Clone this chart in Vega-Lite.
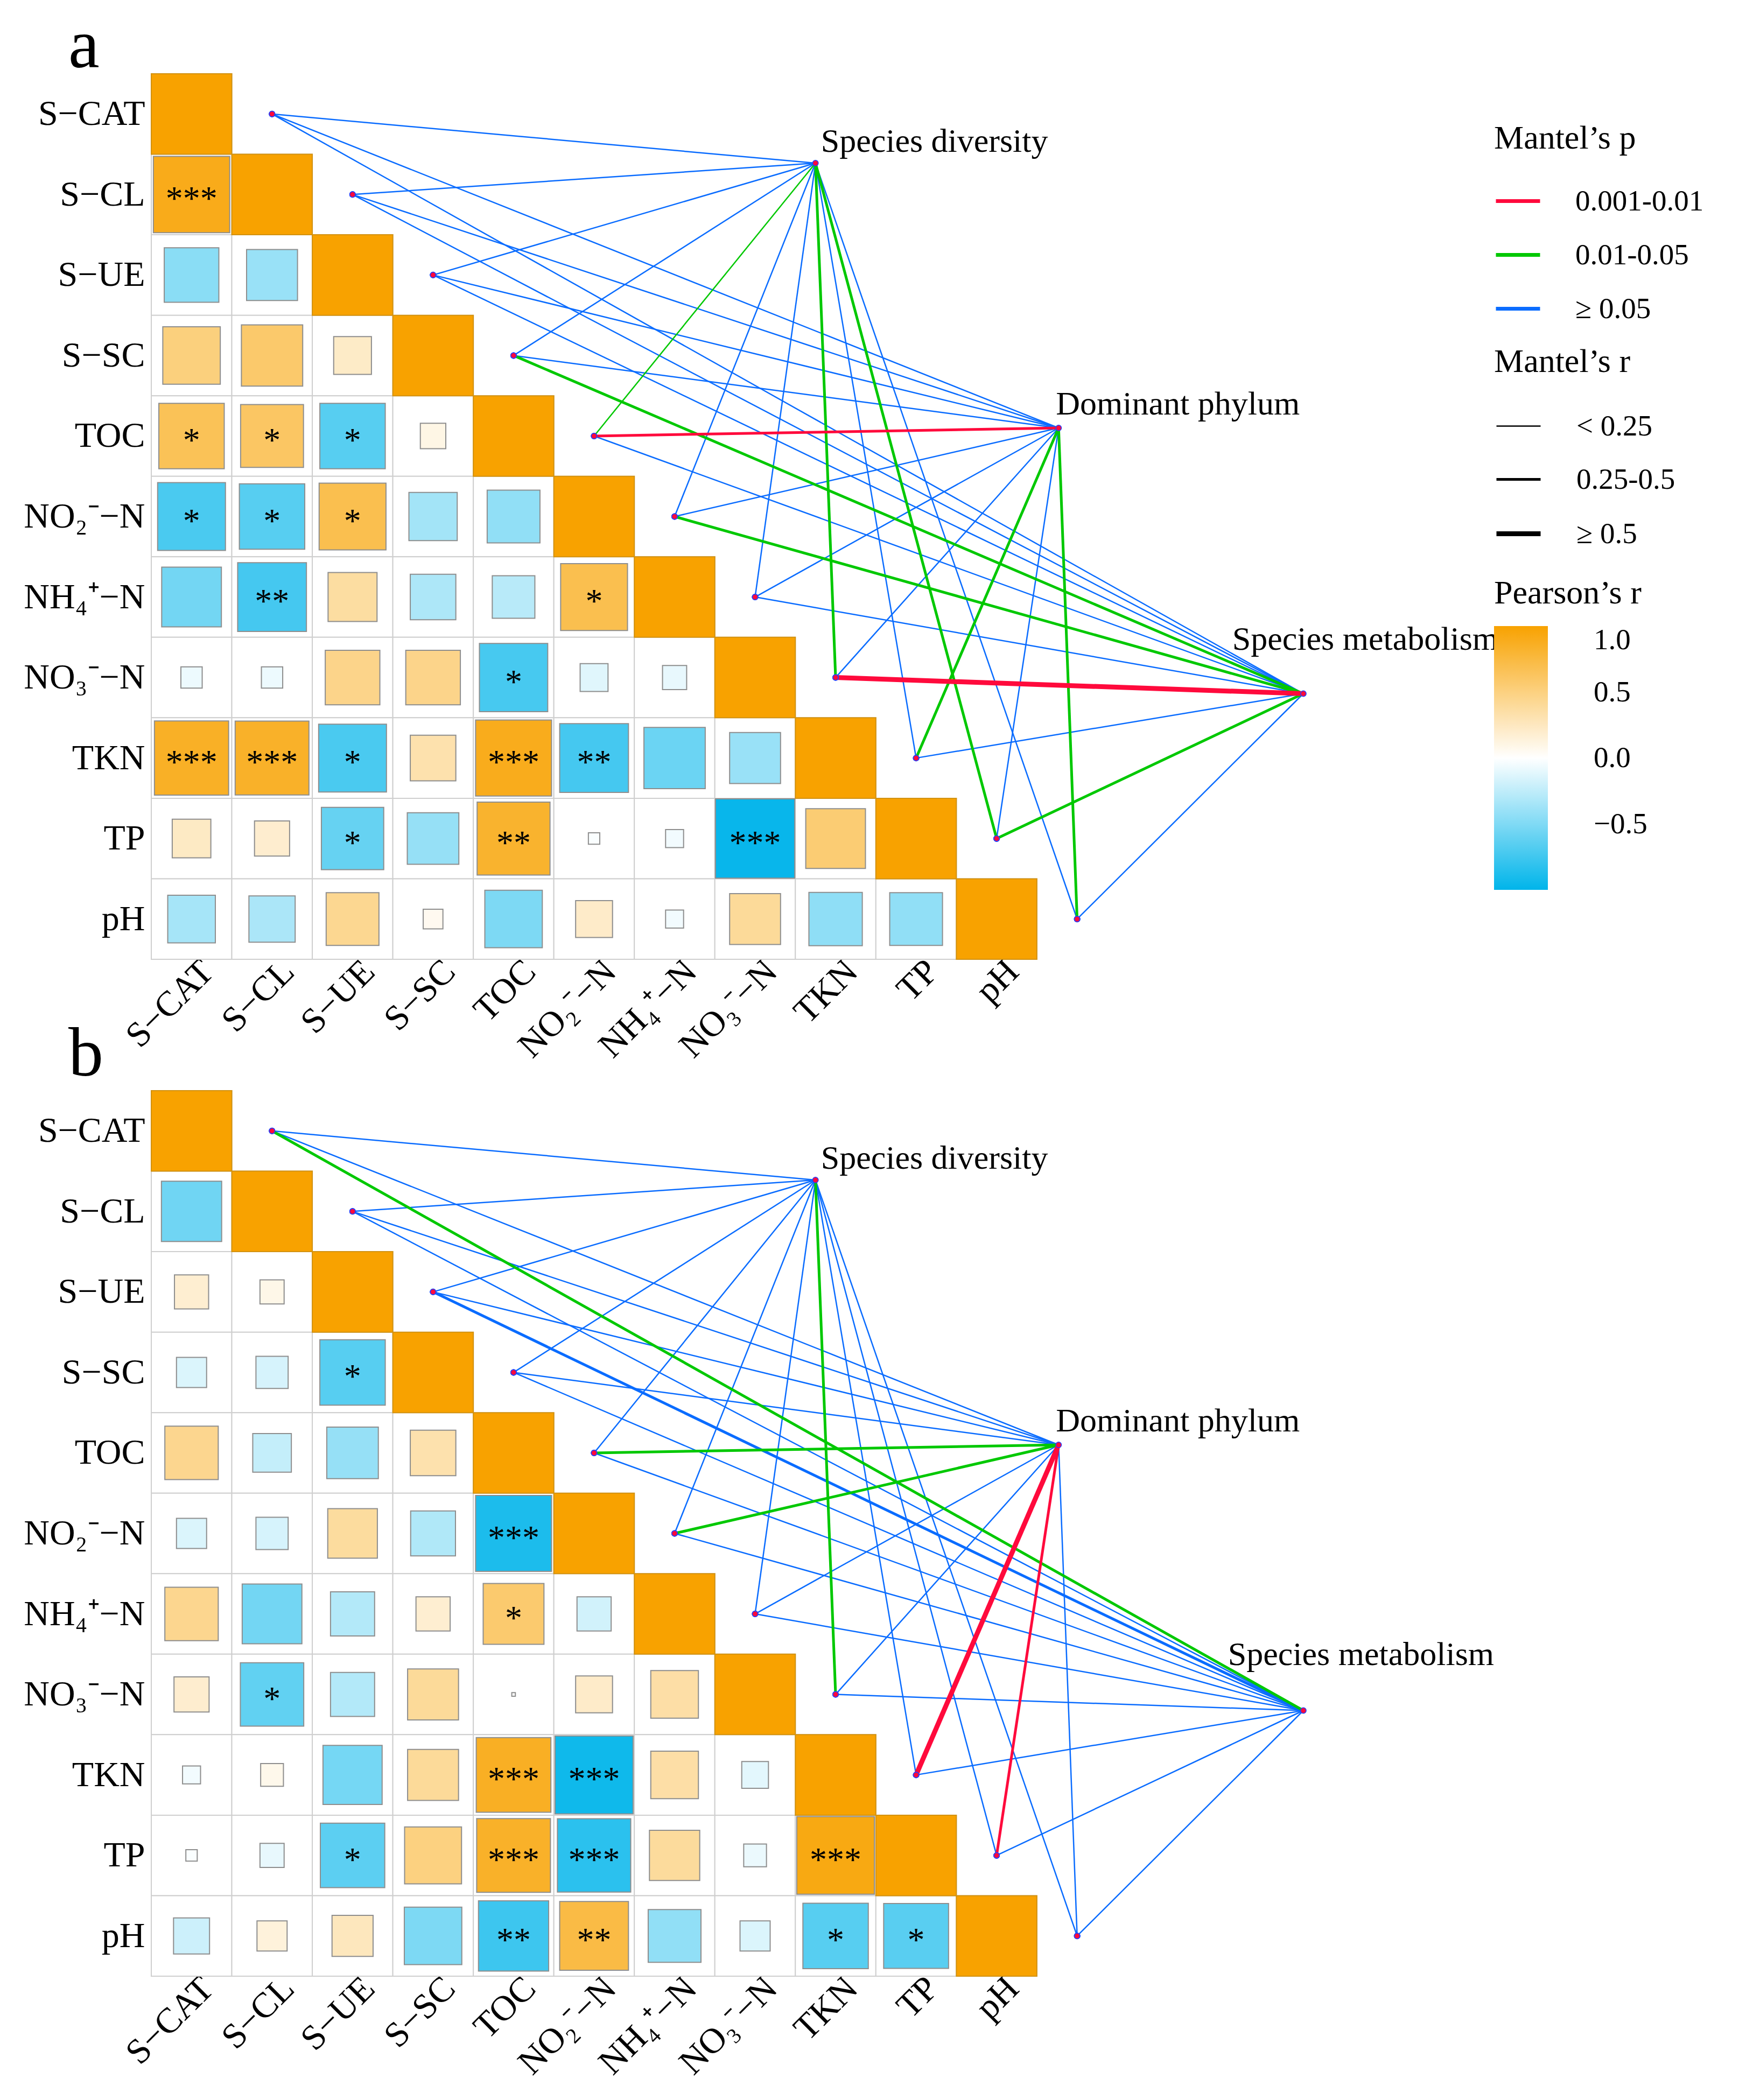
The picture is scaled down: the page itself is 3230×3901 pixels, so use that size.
{
  "$schema": "https://vega.github.io/schema/vega-lite/v6.json",
  "background": "white",
  "padding": {"left": 43, "top": 21, "right": 5, "bottom": 5},
  "autosize": {"type": "pad"},
  "config": {
    "font": "Liberation Serif",
    "view": {"stroke": null},
    "legend": {"labelFont": "Liberation Serif", "titleFont": "Liberation Serif", "titleFontWeight": "normal", "labelColor": "black", "titleColor": "black", "labelLimit": 0, "titleLimit": 0},
    "axis": {"labelLimit": 0}
  },
  "datasets": {
    "nodes": [
      {"node": "Species diversity", "nx": 7.75, "ny": 0.61},
      {"node": "Dominant phylum", "nx": 10.77, "ny": 3.9},
      {"node": "Species metabolism", "nx": 13.81, "ny": 7.2}
    ],
    "cells": [
      {"panel": "a", "row": 0, "col": 0, "r": 1, "sig": ""},
      {"panel": "a", "row": 1, "col": 1, "r": 1, "sig": ""},
      {"panel": "a", "row": 2, "col": 2, "r": 1, "sig": ""},
      {"panel": "a", "row": 3, "col": 3, "r": 1, "sig": ""},
      {"panel": "a", "row": 4, "col": 4, "r": 1, "sig": ""},
      {"panel": "a", "row": 5, "col": 5, "r": 1, "sig": ""},
      {"panel": "a", "row": 6, "col": 6, "r": 1, "sig": ""},
      {"panel": "a", "row": 7, "col": 7, "r": 1, "sig": ""},
      {"panel": "a", "row": 8, "col": 8, "r": 1, "sig": ""},
      {"panel": "a", "row": 9, "col": 9, "r": 1, "sig": ""},
      {"panel": "a", "row": 10, "col": 10, "r": 1, "sig": ""},
      {"panel": "a", "row": 1, "col": 0, "r": 0.9, "sig": "***"},
      {"panel": "a", "row": 2, "col": 0, "r": -0.46, "sig": ""},
      {"panel": "a", "row": 2, "col": 1, "r": -0.4, "sig": ""},
      {"panel": "a", "row": 3, "col": 0, "r": 0.51, "sig": ""},
      {"panel": "a", "row": 3, "col": 1, "r": 0.58, "sig": ""},
      {"panel": "a", "row": 3, "col": 2, "r": 0.22, "sig": ""},
      {"panel": "a", "row": 4, "col": 0, "r": 0.66, "sig": "*"},
      {"panel": "a", "row": 4, "col": 1, "r": 0.61, "sig": "*"},
      {"panel": "a", "row": 4, "col": 2, "r": -0.66, "sig": "*"},
      {"panel": "a", "row": 4, "col": 3, "r": 0.1, "sig": ""},
      {"panel": "a", "row": 5, "col": 0, "r": -0.71, "sig": "*"},
      {"panel": "a", "row": 5, "col": 1, "r": -0.66, "sig": "*"},
      {"panel": "a", "row": 5, "col": 2, "r": 0.69, "sig": "*"},
      {"panel": "a", "row": 5, "col": 3, "r": -0.36, "sig": ""},
      {"panel": "a", "row": 5, "col": 4, "r": -0.43, "sig": ""},
      {"panel": "a", "row": 6, "col": 0, "r": -0.55, "sig": ""},
      {"panel": "a", "row": 6, "col": 1, "r": -0.73, "sig": "**"},
      {"panel": "a", "row": 6, "col": 2, "r": 0.37, "sig": ""},
      {"panel": "a", "row": 6, "col": 3, "r": -0.32, "sig": ""},
      {"panel": "a", "row": 6, "col": 4, "r": -0.28, "sig": ""},
      {"panel": "a", "row": 6, "col": 5, "r": 0.69, "sig": "*"},
      {"panel": "a", "row": 7, "col": 0, "r": -0.07, "sig": ""},
      {"panel": "a", "row": 7, "col": 1, "r": -0.07, "sig": ""},
      {"panel": "a", "row": 7, "col": 2, "r": 0.46, "sig": ""},
      {"panel": "a", "row": 7, "col": 3, "r": 0.46, "sig": ""},
      {"panel": "a", "row": 7, "col": 4, "r": -0.72, "sig": "*"},
      {"panel": "a", "row": 7, "col": 5, "r": -0.12, "sig": ""},
      {"panel": "a", "row": 7, "col": 6, "r": -0.09, "sig": ""},
      {"panel": "a", "row": 8, "col": 0, "r": 0.85, "sig": "***"},
      {"panel": "a", "row": 8, "col": 1, "r": 0.84, "sig": "***"},
      {"panel": "a", "row": 8, "col": 2, "r": -0.71, "sig": "*"},
      {"panel": "a", "row": 8, "col": 3, "r": 0.32, "sig": ""},
      {"panel": "a", "row": 8, "col": 4, "r": 0.89, "sig": "***"},
      {"panel": "a", "row": 8, "col": 5, "r": -0.73, "sig": "**"},
      {"panel": "a", "row": 8, "col": 6, "r": -0.58, "sig": ""},
      {"panel": "a", "row": 8, "col": 7, "r": -0.4, "sig": ""},
      {"panel": "a", "row": 9, "col": 0, "r": 0.23, "sig": ""},
      {"panel": "a", "row": 9, "col": 1, "r": 0.19, "sig": ""},
      {"panel": "a", "row": 9, "col": 2, "r": -0.6, "sig": "*"},
      {"panel": "a", "row": 9, "col": 3, "r": -0.41, "sig": ""},
      {"panel": "a", "row": 9, "col": 4, "r": 0.82, "sig": "**"},
      {"panel": "a", "row": 9, "col": 5, "r": -0.02, "sig": ""},
      {"panel": "a", "row": 9, "col": 6, "r": -0.05, "sig": ""},
      {"panel": "a", "row": 9, "col": 7, "r": -0.97, "sig": "***"},
      {"panel": "a", "row": 9, "col": 8, "r": 0.55, "sig": ""},
      {"panel": "a", "row": 10, "col": 0, "r": -0.35, "sig": ""},
      {"panel": "a", "row": 10, "col": 1, "r": -0.33, "sig": ""},
      {"panel": "a", "row": 10, "col": 2, "r": 0.43, "sig": ""},
      {"panel": "a", "row": 10, "col": 3, "r": 0.06, "sig": ""},
      {"panel": "a", "row": 10, "col": 4, "r": -0.51, "sig": ""},
      {"panel": "a", "row": 10, "col": 5, "r": 0.21, "sig": ""},
      {"panel": "a", "row": 10, "col": 6, "r": -0.05, "sig": ""},
      {"panel": "a", "row": 10, "col": 7, "r": 0.4, "sig": ""},
      {"panel": "a", "row": 10, "col": 8, "r": -0.44, "sig": ""},
      {"panel": "a", "row": 10, "col": 9, "r": -0.43, "sig": ""},
      {"panel": "b", "row": 0, "col": 0, "r": 1, "sig": ""},
      {"panel": "b", "row": 1, "col": 1, "r": 1, "sig": ""},
      {"panel": "b", "row": 2, "col": 2, "r": 1, "sig": ""},
      {"panel": "b", "row": 3, "col": 3, "r": 1, "sig": ""},
      {"panel": "b", "row": 4, "col": 4, "r": 1, "sig": ""},
      {"panel": "b", "row": 5, "col": 5, "r": 1, "sig": ""},
      {"panel": "b", "row": 6, "col": 6, "r": 1, "sig": ""},
      {"panel": "b", "row": 7, "col": 7, "r": 1, "sig": ""},
      {"panel": "b", "row": 8, "col": 8, "r": 1, "sig": ""},
      {"panel": "b", "row": 9, "col": 9, "r": 1, "sig": ""},
      {"panel": "b", "row": 10, "col": 10, "r": 1, "sig": ""},
      {"panel": "b", "row": 1, "col": 0, "r": -0.56, "sig": ""},
      {"panel": "b", "row": 2, "col": 0, "r": 0.18, "sig": ""},
      {"panel": "b", "row": 2, "col": 1, "r": 0.09, "sig": ""},
      {"panel": "b", "row": 3, "col": 0, "r": -0.14, "sig": ""},
      {"panel": "b", "row": 3, "col": 1, "r": -0.16, "sig": ""},
      {"panel": "b", "row": 3, "col": 2, "r": -0.66, "sig": "*"},
      {"panel": "b", "row": 4, "col": 0, "r": 0.44, "sig": ""},
      {"panel": "b", "row": 4, "col": 1, "r": -0.23, "sig": ""},
      {"panel": "b", "row": 4, "col": 2, "r": -0.41, "sig": ""},
      {"panel": "b", "row": 4, "col": 3, "r": 0.32, "sig": ""},
      {"panel": "b", "row": 5, "col": 0, "r": -0.14, "sig": ""},
      {"panel": "b", "row": 5, "col": 1, "r": -0.16, "sig": ""},
      {"panel": "b", "row": 5, "col": 2, "r": 0.38, "sig": ""},
      {"panel": "b", "row": 5, "col": 3, "r": -0.31, "sig": ""},
      {"panel": "b", "row": 5, "col": 4, "r": -0.89, "sig": "***"},
      {"panel": "b", "row": 6, "col": 0, "r": 0.44, "sig": ""},
      {"panel": "b", "row": 6, "col": 1, "r": -0.55, "sig": ""},
      {"panel": "b", "row": 6, "col": 2, "r": -0.3, "sig": ""},
      {"panel": "b", "row": 6, "col": 3, "r": 0.18, "sig": ""},
      {"panel": "b", "row": 6, "col": 4, "r": 0.57, "sig": "*"},
      {"panel": "b", "row": 6, "col": 5, "r": -0.18, "sig": ""},
      {"panel": "b", "row": 7, "col": 0, "r": 0.19, "sig": ""},
      {"panel": "b", "row": 7, "col": 1, "r": -0.62, "sig": "*"},
      {"panel": "b", "row": 7, "col": 2, "r": -0.3, "sig": ""},
      {"panel": "b", "row": 7, "col": 3, "r": 0.4, "sig": ""},
      {"panel": "b", "row": 7, "col": 4, "r": 0.002, "sig": ""},
      {"panel": "b", "row": 7, "col": 5, "r": 0.21, "sig": ""},
      {"panel": "b", "row": 7, "col": 6, "r": 0.35, "sig": ""},
      {"panel": "b", "row": 8, "col": 0, "r": -0.05, "sig": ""},
      {"panel": "b", "row": 8, "col": 1, "r": 0.08, "sig": ""},
      {"panel": "b", "row": 8, "col": 2, "r": -0.54, "sig": ""},
      {"panel": "b", "row": 8, "col": 3, "r": 0.4, "sig": ""},
      {"panel": "b", "row": 8, "col": 4, "r": 0.86, "sig": "***"},
      {"panel": "b", "row": 8, "col": 5, "r": -0.94, "sig": "***"},
      {"panel": "b", "row": 8, "col": 6, "r": 0.35, "sig": ""},
      {"panel": "b", "row": 8, "col": 7, "r": -0.11, "sig": ""},
      {"panel": "b", "row": 9, "col": 0, "r": -0.02, "sig": ""},
      {"panel": "b", "row": 9, "col": 1, "r": -0.09, "sig": ""},
      {"panel": "b", "row": 9, "col": 2, "r": -0.64, "sig": "*"},
      {"panel": "b", "row": 9, "col": 3, "r": 0.5, "sig": ""},
      {"panel": "b", "row": 9, "col": 4, "r": 0.84, "sig": "***"},
      {"panel": "b", "row": 9, "col": 5, "r": -0.83, "sig": "***"},
      {"panel": "b", "row": 9, "col": 6, "r": 0.39, "sig": ""},
      {"panel": "b", "row": 9, "col": 7, "r": -0.08, "sig": ""},
      {"panel": "b", "row": 9, "col": 8, "r": 0.93, "sig": "***"},
      {"panel": "b", "row": 10, "col": 0, "r": -0.2, "sig": ""},
      {"panel": "b", "row": 10, "col": 1, "r": 0.14, "sig": ""},
      {"panel": "b", "row": 10, "col": 2, "r": 0.26, "sig": ""},
      {"panel": "b", "row": 10, "col": 3, "r": -0.51, "sig": ""},
      {"panel": "b", "row": 10, "col": 4, "r": -0.76, "sig": "**"},
      {"panel": "b", "row": 10, "col": 5, "r": 0.73, "sig": "**"},
      {"panel": "b", "row": 10, "col": 6, "r": -0.43, "sig": ""},
      {"panel": "b", "row": 10, "col": 7, "r": -0.14, "sig": ""},
      {"panel": "b", "row": 10, "col": 8, "r": -0.66, "sig": "*"},
      {"panel": "b", "row": 10, "col": 9, "r": -0.65, "sig": "*"}
    ],
    "links": [
      {"panel": "a", "node": "Species diversity", "ex": 1, "ey": 0, "mp": "≥ 0.05", "mr": "< 0.25"},
      {"panel": "a", "node": "Species diversity", "ex": 2, "ey": 1, "mp": "≥ 0.05", "mr": "< 0.25"},
      {"panel": "a", "node": "Species diversity", "ex": 3, "ey": 2, "mp": "≥ 0.05", "mr": "< 0.25"},
      {"panel": "a", "node": "Species diversity", "ex": 4, "ey": 3, "mp": "≥ 0.05", "mr": "< 0.25"},
      {"panel": "a", "node": "Species diversity", "ex": 6, "ey": 5, "mp": "≥ 0.05", "mr": "< 0.25"},
      {"panel": "a", "node": "Species diversity", "ex": 7, "ey": 6, "mp": "≥ 0.05", "mr": "< 0.25"},
      {"panel": "a", "node": "Species diversity", "ex": 9, "ey": 8, "mp": "≥ 0.05", "mr": "< 0.25"},
      {"panel": "a", "node": "Species diversity", "ex": 11, "ey": 10, "mp": "≥ 0.05", "mr": "< 0.25"},
      {"panel": "a", "node": "Dominant phylum", "ex": 1, "ey": 0, "mp": "≥ 0.05", "mr": "< 0.25"},
      {"panel": "a", "node": "Dominant phylum", "ex": 2, "ey": 1, "mp": "≥ 0.05", "mr": "< 0.25"},
      {"panel": "a", "node": "Dominant phylum", "ex": 3, "ey": 2, "mp": "≥ 0.05", "mr": "< 0.25"},
      {"panel": "a", "node": "Dominant phylum", "ex": 4, "ey": 3, "mp": "≥ 0.05", "mr": "< 0.25"},
      {"panel": "a", "node": "Dominant phylum", "ex": 6, "ey": 5, "mp": "≥ 0.05", "mr": "< 0.25"},
      {"panel": "a", "node": "Dominant phylum", "ex": 7, "ey": 6, "mp": "≥ 0.05", "mr": "< 0.25"},
      {"panel": "a", "node": "Dominant phylum", "ex": 8, "ey": 7, "mp": "≥ 0.05", "mr": "< 0.25"},
      {"panel": "a", "node": "Dominant phylum", "ex": 10, "ey": 9, "mp": "≥ 0.05", "mr": "< 0.25"},
      {"panel": "a", "node": "Species metabolism", "ex": 1, "ey": 0, "mp": "≥ 0.05", "mr": "< 0.25"},
      {"panel": "a", "node": "Species metabolism", "ex": 2, "ey": 1, "mp": "≥ 0.05", "mr": "< 0.25"},
      {"panel": "a", "node": "Species metabolism", "ex": 3, "ey": 2, "mp": "≥ 0.05", "mr": "< 0.25"},
      {"panel": "a", "node": "Species metabolism", "ex": 5, "ey": 4, "mp": "≥ 0.05", "mr": "< 0.25"},
      {"panel": "a", "node": "Species metabolism", "ex": 7, "ey": 6, "mp": "≥ 0.05", "mr": "< 0.25"},
      {"panel": "a", "node": "Species metabolism", "ex": 9, "ey": 8, "mp": "≥ 0.05", "mr": "< 0.25"},
      {"panel": "a", "node": "Species metabolism", "ex": 11, "ey": 10, "mp": "≥ 0.05", "mr": "< 0.25"},
      {"panel": "a", "node": "Species diversity", "ex": 5, "ey": 4, "mp": "0.01-0.05", "mr": "< 0.25"},
      {"panel": "a", "node": "Species diversity", "ex": 8, "ey": 7, "mp": "0.01-0.05", "mr": "0.25-0.5"},
      {"panel": "a", "node": "Species diversity", "ex": 10, "ey": 9, "mp": "0.01-0.05", "mr": "0.25-0.5"},
      {"panel": "a", "node": "Dominant phylum", "ex": 9, "ey": 8, "mp": "0.01-0.05", "mr": "0.25-0.5"},
      {"panel": "a", "node": "Dominant phylum", "ex": 11, "ey": 10, "mp": "0.01-0.05", "mr": "0.25-0.5"},
      {"panel": "a", "node": "Species metabolism", "ex": 4, "ey": 3, "mp": "0.01-0.05", "mr": "0.25-0.5"},
      {"panel": "a", "node": "Species metabolism", "ex": 6, "ey": 5, "mp": "0.01-0.05", "mr": "0.25-0.5"},
      {"panel": "a", "node": "Species metabolism", "ex": 10, "ey": 9, "mp": "0.01-0.05", "mr": "0.25-0.5"},
      {"panel": "a", "node": "Dominant phylum", "ex": 5, "ey": 4, "mp": "0.001-0.01", "mr": "0.25-0.5"},
      {"panel": "a", "node": "Species metabolism", "ex": 8, "ey": 7, "mp": "0.001-0.01", "mr": "≥ 0.5"},
      {"panel": "b", "node": "Species diversity", "ex": 1, "ey": 0, "mp": "≥ 0.05", "mr": "< 0.25"},
      {"panel": "b", "node": "Species diversity", "ex": 2, "ey": 1, "mp": "≥ 0.05", "mr": "< 0.25"},
      {"panel": "b", "node": "Species diversity", "ex": 3, "ey": 2, "mp": "≥ 0.05", "mr": "< 0.25"},
      {"panel": "b", "node": "Species diversity", "ex": 4, "ey": 3, "mp": "≥ 0.05", "mr": "< 0.25"},
      {"panel": "b", "node": "Species diversity", "ex": 5, "ey": 4, "mp": "≥ 0.05", "mr": "< 0.25"},
      {"panel": "b", "node": "Species diversity", "ex": 6, "ey": 5, "mp": "≥ 0.05", "mr": "< 0.25"},
      {"panel": "b", "node": "Species diversity", "ex": 7, "ey": 6, "mp": "≥ 0.05", "mr": "< 0.25"},
      {"panel": "b", "node": "Species diversity", "ex": 9, "ey": 8, "mp": "≥ 0.05", "mr": "< 0.25"},
      {"panel": "b", "node": "Species diversity", "ex": 10, "ey": 9, "mp": "≥ 0.05", "mr": "< 0.25"},
      {"panel": "b", "node": "Species diversity", "ex": 11, "ey": 10, "mp": "≥ 0.05", "mr": "< 0.25"},
      {"panel": "b", "node": "Dominant phylum", "ex": 1, "ey": 0, "mp": "≥ 0.05", "mr": "< 0.25"},
      {"panel": "b", "node": "Dominant phylum", "ex": 2, "ey": 1, "mp": "≥ 0.05", "mr": "< 0.25"},
      {"panel": "b", "node": "Dominant phylum", "ex": 3, "ey": 2, "mp": "≥ 0.05", "mr": "< 0.25"},
      {"panel": "b", "node": "Dominant phylum", "ex": 4, "ey": 3, "mp": "≥ 0.05", "mr": "< 0.25"},
      {"panel": "b", "node": "Dominant phylum", "ex": 7, "ey": 6, "mp": "≥ 0.05", "mr": "< 0.25"},
      {"panel": "b", "node": "Dominant phylum", "ex": 8, "ey": 7, "mp": "≥ 0.05", "mr": "< 0.25"},
      {"panel": "b", "node": "Dominant phylum", "ex": 11, "ey": 10, "mp": "≥ 0.05", "mr": "< 0.25"},
      {"panel": "b", "node": "Species metabolism", "ex": 2, "ey": 1, "mp": "≥ 0.05", "mr": "< 0.25"},
      {"panel": "b", "node": "Species metabolism", "ex": 4, "ey": 3, "mp": "≥ 0.05", "mr": "< 0.25"},
      {"panel": "b", "node": "Species metabolism", "ex": 5, "ey": 4, "mp": "≥ 0.05", "mr": "< 0.25"},
      {"panel": "b", "node": "Species metabolism", "ex": 6, "ey": 5, "mp": "≥ 0.05", "mr": "< 0.25"},
      {"panel": "b", "node": "Species metabolism", "ex": 7, "ey": 6, "mp": "≥ 0.05", "mr": "< 0.25"},
      {"panel": "b", "node": "Species metabolism", "ex": 8, "ey": 7, "mp": "≥ 0.05", "mr": "< 0.25"},
      {"panel": "b", "node": "Species metabolism", "ex": 9, "ey": 8, "mp": "≥ 0.05", "mr": "< 0.25"},
      {"panel": "b", "node": "Species metabolism", "ex": 10, "ey": 9, "mp": "≥ 0.05", "mr": "< 0.25"},
      {"panel": "b", "node": "Species metabolism", "ex": 11, "ey": 10, "mp": "≥ 0.05", "mr": "< 0.25"},
      {"panel": "b", "node": "Species metabolism", "ex": 3, "ey": 2, "mp": "≥ 0.05", "mr": "0.25-0.5"},
      {"panel": "b", "node": "Species metabolism", "ex": 1, "ey": 0, "mp": "0.01-0.05", "mr": "0.25-0.5"},
      {"panel": "b", "node": "Species diversity", "ex": 8, "ey": 7, "mp": "0.01-0.05", "mr": "0.25-0.5"},
      {"panel": "b", "node": "Dominant phylum", "ex": 5, "ey": 4, "mp": "0.01-0.05", "mr": "0.25-0.5"},
      {"panel": "b", "node": "Dominant phylum", "ex": 6, "ey": 5, "mp": "0.01-0.05", "mr": "0.25-0.5"},
      {"panel": "b", "node": "Dominant phylum", "ex": 10, "ey": 9, "mp": "0.001-0.01", "mr": "0.25-0.5"},
      {"panel": "b", "node": "Dominant phylum", "ex": 9, "ey": 8, "mp": "0.001-0.01", "mr": "≥ 0.5"}
    ]
  },
  "vconcat": [
    {
      "width": 2243,
      "height": 1645,
      "title": {"text": "a", "anchor": "start", "frame": "group", "dx": -154, "offset": -122, "fontSize": 130, "font": "Liberation Serif", "fontWeight": "normal", "baseline": "alphabetic", "color": "black"},
      "layer": [
        {
          "data": {"name": "cells"},
          "transform": [{"filter": "datum.panel === 'a'"}],
          "mark": {"type": "point", "shape": "square", "filled": true, "fill": "white", "stroke": "#CFCFCF", "strokeWidth": 2, "size": 22360, "opacity": 1},
          "encoding": {
            "x": {"field": "col", "type": "quantitative", "title": null, "scale": {"domain": [-0.5, 14.5], "nice": false, "zero": false},
              "axis": {"values": [0,1,2,3,4,5,6,7,8,9,10], "labelExpr": "['S−CAT','S−CL','S−UE','S−SC','TOC','NO₂⁻−N','NH₄⁺−N','NO₃⁻−N','TKN','TP','pH'][datum.value]", "labelAngle": -45, "labelAlign": "right", "labelBaseline": "middle", "labelFontSize": 66, "labelFont": "Liberation Serif", "labelColor": "black", "ticks": false, "domain": false, "grid": false, "labelPadding": 12, "labelOffset": 30, "labelFlush": false, "labelOverlap": false, "labelBound": false, "labelLimit": 0}},
            "y": {"field": "row", "type": "quantitative", "title": null, "scale": {"domain": [-0.5, 10.5], "reverse": true, "nice": false, "zero": false},
              "axis": {"values": [0,1,2,3,4,5,6,7,8,9,10], "labelExpr": "['S−CAT','S−CL','S−UE','S−SC','TOC','NO₂⁻−N','NH₄⁺−N','NO₃⁻−N','TKN','TP','pH'][datum.value]", "labelFontSize": 66, "labelFont": "Liberation Serif", "labelColor": "black", "ticks": false, "domain": false, "grid": false, "labelPadding": 12, "labelFlush": false, "labelOverlap": false, "labelBound": false, "labelLimit": 0}}
          }
        },
        {
          "data": {"name": "cells"},
          "transform": [{"filter": "datum.panel === 'a'"}, {"calculate": "abs(datum.r)", "as": "absr"}],
          "mark": {"type": "point", "shape": "square", "filled": true, "strokeWidth": 2, "opacity": 1},
          "encoding": {
            "x": {"field": "col", "type": "quantitative", "title": null, "scale": {"domain": [-0.5, 14.5], "nice": false, "zero": false}},
            "y": {"field": "row", "type": "quantitative", "title": null, "scale": {"domain": [-0.5, 10.5], "reverse": true, "nice": false, "zero": false}},
            "size": {"field": "absr", "type": "quantitative", "scale": {"domain": [0, 1], "range": [0, 22360], "zero": true}, "legend": null},
            "fill": {"field": "r", "type": "quantitative", "scale": {"domain": [-1, 0, 1], "range": ["#00B4EA", "#FFFFFF", "#F8A200"], "interpolate": "rgb"},
              "legend": {"title": "Pearson’s r", "orient": "none", "legendX": 2494, "legendY": 935, "direction": "vertical", "gradientLength": 490, "gradientThickness": 100, "values": [1, 0.5, 0, -0.5], "format": ".1f", "labelFontSize": 55, "titleFontSize": 62, "titlePadding": 29, "labelOffset": 85, "gradientStrokeWidth": 0}},
            "stroke": {"condition": {"test": "datum.row === datum.col", "value": "#D39210"}, "value": "#8E8E8E"}
          }
        },
        {
          "data": {"name": "cells"},
          "transform": [{"filter": "datum.panel === 'a' && datum.sig !== ''"}],
          "mark": {"type": "text", "fontSize": 64, "font": "Liberation Serif", "color": "black", "baseline": "middle", "align": "center", "dy": 10},
          "encoding": {
            "x": {"field": "col", "type": "quantitative", "title": null, "scale": {"domain": [-0.5, 14.5], "nice": false, "zero": false}},
            "y": {"field": "row", "type": "quantitative", "title": null, "scale": {"domain": [-0.5, 10.5], "reverse": true, "nice": false, "zero": false}},
            "text": {"field": "sig"}
          }
        },
        {
          "data": {"name": "links"},
          "transform": [{"filter": "datum.panel === 'a'"}, {"lookup": "node", "from": {"data": {"name": "nodes"}, "key": "node", "fields": ["nx", "ny"]}}],
          "mark": {"type": "rule"},
          "encoding": {
            "x": {"field": "nx", "type": "quantitative", "title": null, "scale": {"domain": [-0.5, 14.5], "nice": false, "zero": false}},
            "y": {"field": "ny", "type": "quantitative", "title": null, "scale": {"domain": [-0.5, 10.5], "reverse": true, "nice": false, "zero": false}},
            "x2": {"field": "ex"},
            "y2": {"field": "ey"},
            "stroke": {"field": "mp", "type": "nominal", "scale": {"domain": ["0.001-0.01", "0.01-0.05", "≥ 0.05"], "range": ["#FF0A3C", "#00C800", "#0A6CFF"]},
              "legend": {"title": "Mantel’s p", "orient": "none", "legendX": 2494, "legendY": 90, "symbolType": "stroke", "symbolStrokeWidth": 7, "symbolSize": 6724, "labelFontSize": 55, "titleFontSize": 62, "labelOffset": 62, "rowPadding": 27, "titlePadding": 40}},
            "strokeWidth": {"field": "mr", "type": "nominal", "scale": {"type": "ordinal", "domain": ["< 0.25", "0.25-0.5", "≥ 0.5"], "range": [2.5, 5, 9]},
              "legend": {"title": "Mantel’s r", "orient": "none", "legendX": 2494, "legendY": 505, "symbolType": "stroke", "symbolStrokeColor": "black", "symbolSize": 6724, "labelFontSize": 55, "titleFontSize": 62, "labelOffset": 62, "rowPadding": 27, "titlePadding": 45}}
          }
        },
        {
          "data": {"name": "links"},
          "transform": [{"filter": "datum.panel === 'a'"}],
          "mark": {"type": "point", "shape": "circle", "filled": true, "fill": "#FF0A3C", "stroke": "#2040FF", "strokeWidth": 1.5, "size": 110, "opacity": 1},
          "encoding": {
            "x": {"field": "ex", "type": "quantitative", "title": null, "scale": {"domain": [-0.5, 14.5], "nice": false, "zero": false}},
            "y": {"field": "ey", "type": "quantitative", "title": null, "scale": {"domain": [-0.5, 10.5], "reverse": true, "nice": false, "zero": false}}
          }
        },
        {
          "data": {"name": "nodes"},
          "mark": {"type": "point", "shape": "circle", "filled": true, "fill": "#FF0A3C", "stroke": "#2040FF", "strokeWidth": 1.5, "size": 110, "opacity": 1},
          "encoding": {
            "x": {"field": "nx", "type": "quantitative", "title": null, "scale": {"domain": [-0.5, 14.5], "nice": false, "zero": false}},
            "y": {"field": "ny", "type": "quantitative", "title": null, "scale": {"domain": [-0.5, 10.5], "reverse": true, "nice": false, "zero": false}}
          }
        },
        {
          "data": {"name": "nodes"},
          "transform": [{"filter": "datum.node === 'Species diversity'"}],
          "mark": {"type": "text", "fontSize": 62, "font": "Liberation Serif", "color": "black", "align": "left", "baseline": "alphabetic", "dx": 10, "dy": -21},
          "encoding": {
            "x": {"field": "nx", "type": "quantitative", "title": null, "scale": {"domain": [-0.5, 14.5], "nice": false, "zero": false}},
            "y": {"field": "ny", "type": "quantitative", "title": null, "scale": {"domain": [-0.5, 10.5], "reverse": true, "nice": false, "zero": false}},
            "text": {"field": "node"}
          }
        },
        {
          "data": {"name": "nodes"},
          "transform": [{"filter": "datum.node === 'Dominant phylum'"}],
          "mark": {"type": "text", "fontSize": 62, "font": "Liberation Serif", "color": "black", "align": "left", "baseline": "alphabetic", "dx": -5, "dy": -25},
          "encoding": {
            "x": {"field": "nx", "type": "quantitative", "title": null, "scale": {"domain": [-0.5, 14.5], "nice": false, "zero": false}},
            "y": {"field": "ny", "type": "quantitative", "title": null, "scale": {"domain": [-0.5, 10.5], "reverse": true, "nice": false, "zero": false}},
            "text": {"field": "node"}
          }
        },
        {
          "data": {"name": "nodes"},
          "transform": [{"filter": "datum.node === 'Species metabolism'"}],
          "mark": {"type": "text", "fontSize": 62, "font": "Liberation Serif", "color": "black", "align": "left", "baseline": "alphabetic", "dx": -132, "dy": -82},
          "encoding": {
            "x": {"field": "nx", "type": "quantitative", "title": null, "scale": {"domain": [-0.5, 14.5], "nice": false, "zero": false}},
            "y": {"field": "ny", "type": "quantitative", "title": null, "scale": {"domain": [-0.5, 10.5], "reverse": true, "nice": false, "zero": false}},
            "text": {"field": "node"}
          }
        }
      ]
    },
    {
      "width": 2243,
      "height": 1645,
      "title": {"text": "b", "anchor": "start", "frame": "group", "dx": -154, "offset": -106, "fontSize": 130, "font": "Liberation Serif", "fontWeight": "normal", "baseline": "alphabetic", "color": "black"},
      "layer": [
        {
          "data": {"name": "cells"},
          "transform": [{"filter": "datum.panel === 'b'"}],
          "mark": {"type": "point", "shape": "square", "filled": true, "fill": "white", "stroke": "#CFCFCF", "strokeWidth": 2, "size": 22360, "opacity": 1},
          "encoding": {
            "x": {"field": "col", "type": "quantitative", "title": null, "scale": {"domain": [-0.5, 14.5], "nice": false, "zero": false},
              "axis": {"values": [0,1,2,3,4,5,6,7,8,9,10], "labelExpr": "['S−CAT','S−CL','S−UE','S−SC','TOC','NO₂⁻−N','NH₄⁺−N','NO₃⁻−N','TKN','TP','pH'][datum.value]", "labelAngle": -45, "labelAlign": "right", "labelBaseline": "middle", "labelFontSize": 66, "labelFont": "Liberation Serif", "labelColor": "black", "ticks": false, "domain": false, "grid": false, "labelPadding": 12, "labelOffset": 30, "labelFlush": false, "labelOverlap": false, "labelBound": false, "labelLimit": 0}},
            "y": {"field": "row", "type": "quantitative", "title": null, "scale": {"domain": [-0.5, 10.5], "reverse": true, "nice": false, "zero": false},
              "axis": {"values": [0,1,2,3,4,5,6,7,8,9,10], "labelExpr": "['S−CAT','S−CL','S−UE','S−SC','TOC','NO₂⁻−N','NH₄⁺−N','NO₃⁻−N','TKN','TP','pH'][datum.value]", "labelFontSize": 66, "labelFont": "Liberation Serif", "labelColor": "black", "ticks": false, "domain": false, "grid": false, "labelPadding": 12, "labelFlush": false, "labelOverlap": false, "labelBound": false, "labelLimit": 0}}
          }
        },
        {
          "data": {"name": "cells"},
          "transform": [{"filter": "datum.panel === 'b'"}, {"calculate": "abs(datum.r)", "as": "absr"}],
          "mark": {"type": "point", "shape": "square", "filled": true, "strokeWidth": 2, "opacity": 1},
          "encoding": {
            "x": {"field": "col", "type": "quantitative", "title": null, "scale": {"domain": [-0.5, 14.5], "nice": false, "zero": false}},
            "y": {"field": "row", "type": "quantitative", "title": null, "scale": {"domain": [-0.5, 10.5], "reverse": true, "nice": false, "zero": false}},
            "size": {"field": "absr", "type": "quantitative", "scale": {"domain": [0, 1], "range": [0, 22360], "zero": true}, "legend": null},
            "fill": {"field": "r", "type": "quantitative", "scale": {"domain": [-1, 0, 1], "range": ["#00B4EA", "#FFFFFF", "#F8A200"], "interpolate": "rgb"},
              "legend": {"title": "Pearson’s r", "orient": "none", "legendX": 2494, "legendY": 935, "direction": "vertical", "gradientLength": 490, "gradientThickness": 100, "values": [1, 0.5, 0, -0.5], "format": ".1f", "labelFontSize": 55, "titleFontSize": 62, "titlePadding": 29, "labelOffset": 85, "gradientStrokeWidth": 0}},
            "stroke": {"condition": {"test": "datum.row === datum.col", "value": "#D39210"}, "value": "#8E8E8E"}
          }
        },
        {
          "data": {"name": "cells"},
          "transform": [{"filter": "datum.panel === 'b' && datum.sig !== ''"}],
          "mark": {"type": "text", "fontSize": 64, "font": "Liberation Serif", "color": "black", "baseline": "middle", "align": "center", "dy": 10},
          "encoding": {
            "x": {"field": "col", "type": "quantitative", "title": null, "scale": {"domain": [-0.5, 14.5], "nice": false, "zero": false}},
            "y": {"field": "row", "type": "quantitative", "title": null, "scale": {"domain": [-0.5, 10.5], "reverse": true, "nice": false, "zero": false}},
            "text": {"field": "sig"}
          }
        },
        {
          "data": {"name": "links"},
          "transform": [{"filter": "datum.panel === 'b'"}, {"lookup": "node", "from": {"data": {"name": "nodes"}, "key": "node", "fields": ["nx", "ny"]}}],
          "mark": {"type": "rule"},
          "encoding": {
            "x": {"field": "nx", "type": "quantitative", "title": null, "scale": {"domain": [-0.5, 14.5], "nice": false, "zero": false}},
            "y": {"field": "ny", "type": "quantitative", "title": null, "scale": {"domain": [-0.5, 10.5], "reverse": true, "nice": false, "zero": false}},
            "x2": {"field": "ex"},
            "y2": {"field": "ey"},
            "stroke": {"field": "mp", "type": "nominal", "scale": {"domain": ["0.001-0.01", "0.01-0.05", "≥ 0.05"], "range": ["#FF0A3C", "#00C800", "#0A6CFF"]},
              "legend": {"title": "Mantel’s p", "orient": "none", "legendX": 2494, "legendY": 90, "symbolType": "stroke", "symbolStrokeWidth": 7, "symbolSize": 6724, "labelFontSize": 55, "titleFontSize": 62, "labelOffset": 62, "rowPadding": 27, "titlePadding": 40}},
            "strokeWidth": {"field": "mr", "type": "nominal", "scale": {"type": "ordinal", "domain": ["< 0.25", "0.25-0.5", "≥ 0.5"], "range": [2.5, 5, 9]},
              "legend": {"title": "Mantel’s r", "orient": "none", "legendX": 2494, "legendY": 505, "symbolType": "stroke", "symbolStrokeColor": "black", "symbolSize": 6724, "labelFontSize": 55, "titleFontSize": 62, "labelOffset": 62, "rowPadding": 27, "titlePadding": 45}}
          }
        },
        {
          "data": {"name": "links"},
          "transform": [{"filter": "datum.panel === 'b'"}],
          "mark": {"type": "point", "shape": "circle", "filled": true, "fill": "#FF0A3C", "stroke": "#2040FF", "strokeWidth": 1.5, "size": 110, "opacity": 1},
          "encoding": {
            "x": {"field": "ex", "type": "quantitative", "title": null, "scale": {"domain": [-0.5, 14.5], "nice": false, "zero": false}},
            "y": {"field": "ey", "type": "quantitative", "title": null, "scale": {"domain": [-0.5, 10.5], "reverse": true, "nice": false, "zero": false}}
          }
        },
        {
          "data": {"name": "nodes"},
          "mark": {"type": "point", "shape": "circle", "filled": true, "fill": "#FF0A3C", "stroke": "#2040FF", "strokeWidth": 1.5, "size": 110, "opacity": 1},
          "encoding": {
            "x": {"field": "nx", "type": "quantitative", "title": null, "scale": {"domain": [-0.5, 14.5], "nice": false, "zero": false}},
            "y": {"field": "ny", "type": "quantitative", "title": null, "scale": {"domain": [-0.5, 10.5], "reverse": true, "nice": false, "zero": false}}
          }
        },
        {
          "data": {"name": "nodes"},
          "transform": [{"filter": "datum.node === 'Species diversity'"}],
          "mark": {"type": "text", "fontSize": 62, "font": "Liberation Serif", "color": "black", "align": "left", "baseline": "alphabetic", "dx": 10, "dy": -21},
          "encoding": {
            "x": {"field": "nx", "type": "quantitative", "title": null, "scale": {"domain": [-0.5, 14.5], "nice": false, "zero": false}},
            "y": {"field": "ny", "type": "quantitative", "title": null, "scale": {"domain": [-0.5, 10.5], "reverse": true, "nice": false, "zero": false}},
            "text": {"field": "node"}
          }
        },
        {
          "data": {"name": "nodes"},
          "transform": [{"filter": "datum.node === 'Dominant phylum'"}],
          "mark": {"type": "text", "fontSize": 62, "font": "Liberation Serif", "color": "black", "align": "left", "baseline": "alphabetic", "dx": -5, "dy": -25},
          "encoding": {
            "x": {"field": "nx", "type": "quantitative", "title": null, "scale": {"domain": [-0.5, 14.5], "nice": false, "zero": false}},
            "y": {"field": "ny", "type": "quantitative", "title": null, "scale": {"domain": [-0.5, 10.5], "reverse": true, "nice": false, "zero": false}},
            "text": {"field": "node"}
          }
        },
        {
          "data": {"name": "nodes"},
          "transform": [{"filter": "datum.node === 'Species metabolism'"}],
          "mark": {"type": "text", "fontSize": 62, "font": "Liberation Serif", "color": "black", "align": "left", "baseline": "alphabetic", "dx": -140, "dy": -85},
          "encoding": {
            "x": {"field": "nx", "type": "quantitative", "title": null, "scale": {"domain": [-0.5, 14.5], "nice": false, "zero": false}},
            "y": {"field": "ny", "type": "quantitative", "title": null, "scale": {"domain": [-0.5, 10.5], "reverse": true, "nice": false, "zero": false}},
            "text": {"field": "node"}
          }
        }
      ]
    }
  ],
  "spacing": 244,
  "bounds": "flush"
}
